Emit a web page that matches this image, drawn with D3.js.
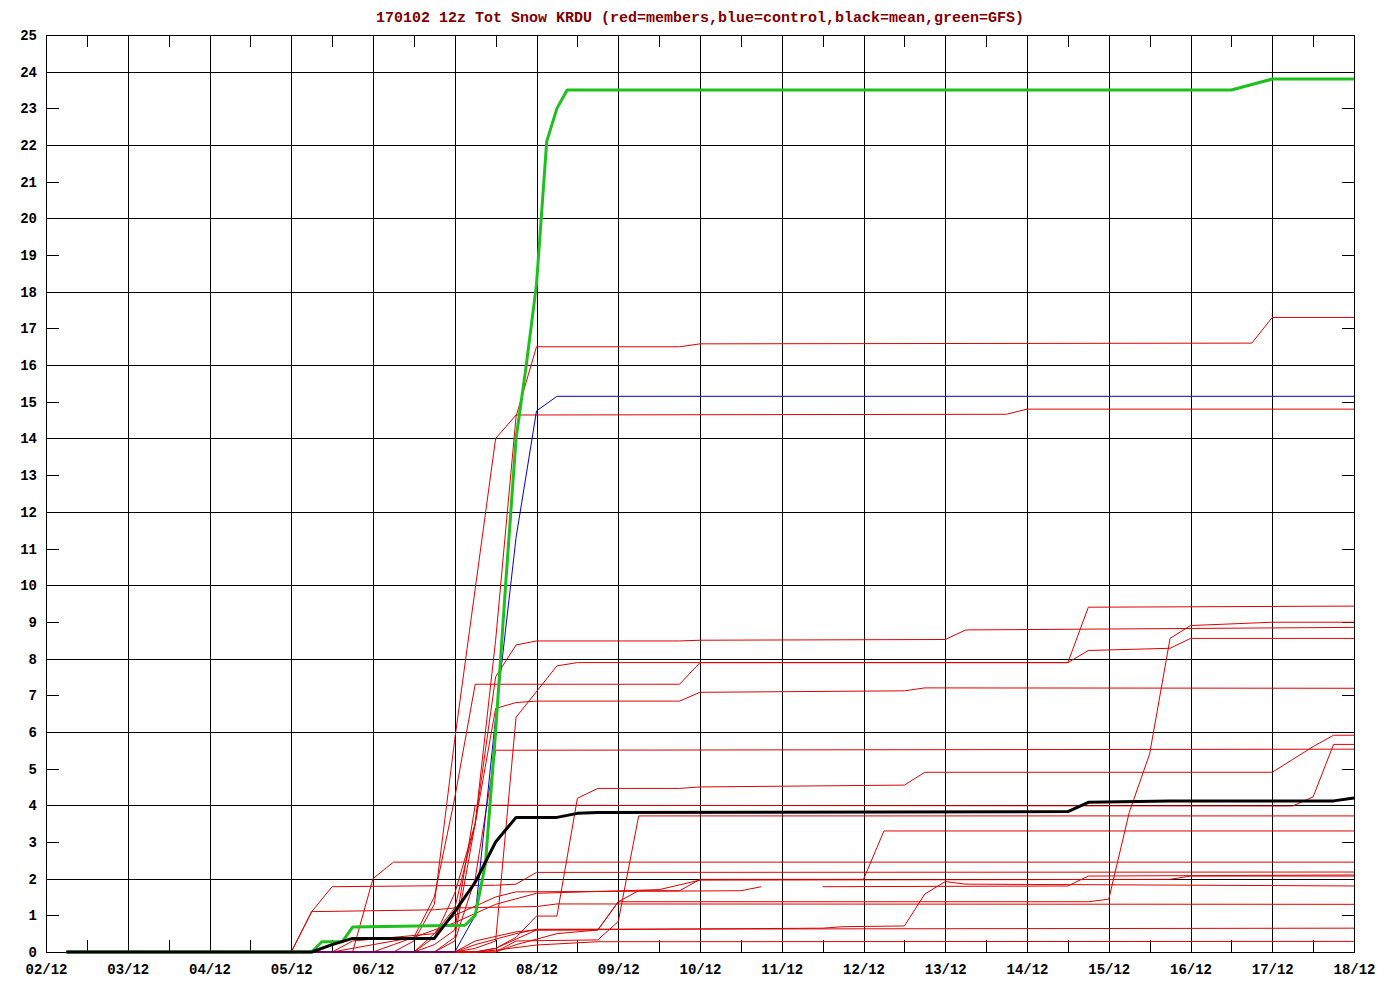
<!DOCTYPE html>
<html><head><meta charset="utf-8">
<script src="https://cdn.jsdelivr.net/npm/d3@7"></script>
<style>body{margin:0;background:#fff}svg{display:block}</style>
</head><body>
<svg id="c" width="1400" height="1000"></svg>
<script>
// ---- tick labels ----
const xTickLabels = ["02/12","03/12","04/12","05/12","06/12","07/12","08/12","09/12","10/12","11/12","12/12","13/12","14/12","15/12","16/12","17/12","18/12"];
const yTickValues = [0,1,2,3,4,5,6,7,8,9,10,11,12,13,14,15,16,17,18,19,20,21,22,23,24,25];
const titleText = "170102 12z Tot Snow KRDU (red=members,blue=control,black=mean,green=GFS)";

// ---- series: [forecast hour, total snow (in)] ----
const member01 = [[6,0],[108,0],[114,0.4],[120,1.6],[126,3.5],[132,8.5],[138,14.6],[144,16.5],[186,16.5],[192,16.58],[354,16.6],[360,17.3],[384,17.3]];
const member02 = [[6,0],[102,0],[108,0.3],[114,1.3],[120,5.8],[126,9.9],[132,14.0],[138,14.64],[282,14.66],[288,14.8],[384,14.8]];
const member03 = [[6,0],[96,0],[102,0.2],[108,0.4],[114,1.5],[120,4.2],[126,7.3],[186,7.3],[192,7.89],[300,7.89],[306,9.4],[384,9.43]];
const member04 = [[6,0],[126,0],[132,0.1],[144,0.6],[162,0.6],[168,1.37],[306,1.37],[312,1.44],[318,3.8],[324,5.4],[330,8.55],[336,8.9],[360,8.99],[384,8.99]];
const member05 = [[6,0],[114,0],[120,0.4],[126,3.5],[132,7.5],[138,8.37],[144,8.48],[186,8.48],[192,8.5],[264,8.52],[270,8.78],[384,8.85]];
const member06 = [[6,0],[120,0],[126,0.1],[132,0.3],[138,6.4],[150,7.8],[156,7.89],[300,7.89],[306,8.22],[330,8.28],[336,8.55],[384,8.55]];
const member07 = [[6,0],[108,0],[114,0.5],[120,1.2],[126,3.5],[132,6.64],[138,6.8],[144,6.84],[186,6.84],[192,7.08],[252,7.12],[258,7.2],[384,7.19]];
const member08 = [[6,0],[126,0],[132,0.1],[138,0.4],[144,0.98],[150,0.98],[156,4.19],[162,4.46],[186,4.46],[192,4.5],[252,4.55],[258,4.9],[360,4.9],[366,5.25],[372,5.6],[378,5.91],[384,5.91]];
const member09 = [[6,0],[108,0],[114,0.2],[120,0.6],[126,4.0],[366,3.98],[372,4.23],[378,5.66],[384,5.66]];
const member10 = [[6,0],[114,0],[120,0.3],[126,2.0],[132,5.5],[384,5.53]];
const member11 = [[6,0],[132,0],[138,0.3],[162,0.33],[168,0.83],[174,3.71],[384,3.71]];
const member12 = [[6,0],[120,0],[126,0.3],[138,0.55],[144,0.6],[228,0.65],[234,0.69],[252,0.71],[258,1.58],[264,1.92],[270,1.85],[384,1.8]];
const member13 = [[6,0],[120,0],[126,0.2],[138,0.5],[144,0.62],[384,0.65]];
const member14 = [[6,0],[126,0],[132,0.05],[144,0.19],[162,0.28],[384,0.29]];
const member15 = [[6,0],[90,0],[96,2.0],[102,2.45],[384,2.45]];
const member16 = [[6,0],[72,0],[78,1.1],[84,1.78],[132,1.82],[138,1.85],[144,2.17],[384,2.18]];
const member17 = [[6,0],[132,0],[138,0.2],[150,0.5],[162,0.6],[168,1.37],[174,1.67],[186,1.67],[192,1.98],[240,1.98],[246,3.3],[384,3.3]];
const member18 = [[6,0],[72,0],[78,1.1],[114,1.15],[120,1.2],[144,1.24],[150,1.31],[384,1.3]];
const member19 = [[6,0],[84,0],[90,0.3],[102,0.4],[114,0.5],[120,1.0],[132,1.5],[138,1.64],[204,1.67],[210,1.78],[216,null],[228,1.78],[300,1.8],[306,2.07],[384,2.1]];
const member20 = [[6,0],[84,0],[96,0.2],[108,0.4],[120,0.8],[132,1.3],[144,1.6],[162,1.65],[180,1.7],[192,1.96],[330,1.98],[336,2.07],[384,2.07]];
const control  = [[6,0],[120,0],[126,1.0],[132,6.4],[138,11.3],[144,14.75],[150,15.15],[384,15.15]];
const gfs      = [[6,0],[78,0],[81,0.28],[87,0.28],[90,0.68],[123,0.73],[126,1.0],[129,2.4],[132,6.0],[135,10.1],[138,14.0],[141,16.0],[144,18.2],[147,22.1],[150,23.0],[153,23.5],[348,23.5],[360,23.8],[384,23.8]];
const ensMean  = [[6,0],[78,0],[84,0.2],[90,0.37],[114,0.37],[120,1.1],[126,1.9],[132,3.0],[138,3.67],[150,3.67],[156,3.78],[162,3.8],[300,3.83],[306,4.08],[330,4.12],[378,4.12],[384,4.2]];

const members = [member01,member02,member03,member04,member05,member06,member07,member08,member09,member10,
                 member11,member12,member13,member14,member15,member16,member17,member18,member19,member20];

// ---- drawing ----
const svg = d3.select("#c");
const x = d3.scaleLinear().domain([0,384]).range([46,1354]);
const y = d3.scaleLinear().domain([0,25]).range([952,35]);
const px = v => Math.round(v) + 0.5;
const X0 = x(0), X1 = x(384), Y0 = y(0), Y1 = y(25);

svg.append("rect").attr("width",1400).attr("height",1000).attr("fill","#fff");

const grid = svg.append("g").attr("stroke","#000").attr("stroke-width",1).attr("shape-rendering","crispEdges");
// horizontal gridlines at even values, short ticks at odd values
yTickValues.forEach(v => {
  if (v === 0 || v === 25) return;
  if (v % 2 === 0) {
    grid.append("line").attr("x1",X0).attr("x2",X1).attr("y1",px(y(v))).attr("y2",px(y(v)));
  } else {
    grid.append("line").attr("x1",X0).attr("x2",X0+13).attr("y1",px(y(v))).attr("y2",px(y(v)));
    grid.append("line").attr("x1",X1-12).attr("x2",X1).attr("y1",px(y(v))).attr("y2",px(y(v)));
  }
});
// vertical day gridlines and half-day ticks
xTickLabels.forEach((lab,i) => {
  const h = i*24;
  if (i > 0 && i < xTickLabels.length-1) {
    grid.append("line").attr("x1",px(x(h))).attr("x2",px(x(h))).attr("y1",Y1).attr("y2",Y0);
  }
  if (i < xTickLabels.length-1) {
    const hx = px(x(h+12));
    grid.append("line").attr("x1",hx).attr("x2",hx).attr("y1",Y1).attr("y2",Y1+12);
    grid.append("line").attr("x1",hx).attr("x2",hx).attr("y1",Y0-12).attr("y2",Y0);
  }
});
// frame
grid.append("rect").attr("x",px(X0)).attr("y",px(Y1))
  .attr("width",Math.round(X1)-Math.round(X0)).attr("height",Math.round(Y0)-Math.round(Y1))
  .attr("fill","none");

// series
const line = d3.line().defined(d => d[1] !== null).x(d => x(d[0])).y(d => y(d[1]));
const plot = svg.append("g").attr("fill","none").attr("stroke-linejoin","round");
members.forEach(m => {
  plot.append("path").attr("d",line(m)).attr("stroke","#e00000").attr("stroke-width",1);
});
plot.append("path").attr("d",line(control)).attr("stroke","#0000c8").attr("stroke-width",1);
plot.append("path").attr("d",line(gfs)).attr("stroke","#1ec01e").attr("stroke-width",3);
plot.append("path").attr("d",line(ensMean)).attr("stroke","#000").attr("stroke-width",3);

// axes labels
const font = "'Liberation Mono','DejaVu Sans Mono',monospace";
const yAxis = svg.append("g").attr("transform",`translate(${X0},0)`)
  .call(d3.axisLeft(y).tickValues(yTickValues).tickSize(0).tickPadding(9).tickFormat(d3.format("d")));
yAxis.select(".domain").remove();
yAxis.selectAll("text").attr("font-family",font).attr("font-weight","bold").attr("font-size",14).attr("fill","#000");

const xAxis = svg.append("g").attr("transform",`translate(0,${Y0})`)
  .call(d3.axisBottom(x).tickValues(xTickLabels.map((d,i)=>i*24)).tickSize(0).tickPadding(12).tickFormat((d,i)=>xTickLabels[i]));
xAxis.select(".domain").remove();
xAxis.selectAll("text").attr("font-family",font).attr("font-weight","bold").attr("font-size",14).attr("fill","#000");

svg.append("text").attr("x",(X0+X1)/2).attr("y",22).attr("text-anchor","middle")
  .attr("font-family",font).attr("font-weight","bold").attr("font-size",15).attr("fill","#800000")
  .text(titleText);
</script>
</body></html>
